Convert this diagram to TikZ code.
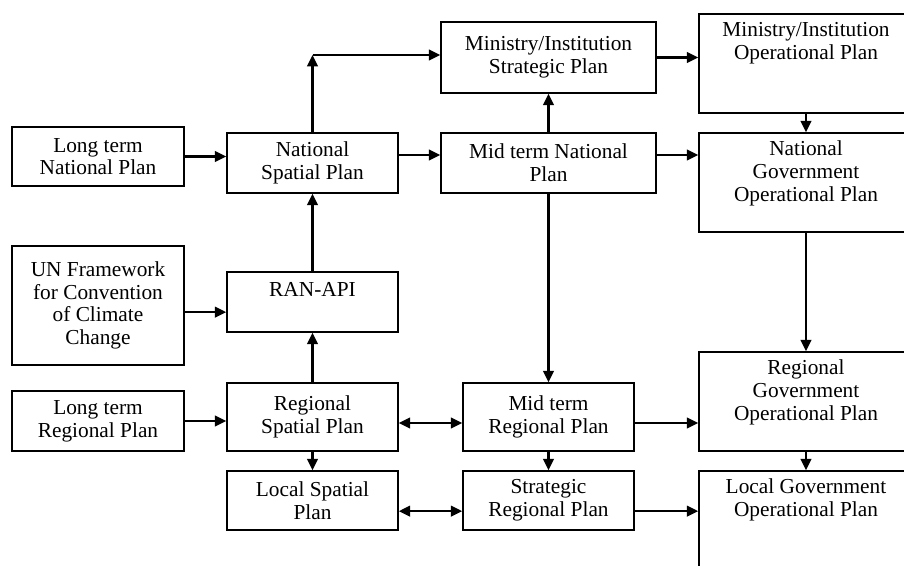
\documentclass[tikz,border=0pt]{standalone}
\usepackage{fontspec}
\setmainfont{Liberation Serif}
\usetikzlibrary{arrows.meta}
\begin{document}
\begin{tikzpicture}[x=0.75pt,y=-0.75pt,
		box/.style={draw,line width=1.2pt,align=center,inner sep=2pt},
		arr/.style={-{Triangle[length=8.5pt,width=8pt]},line width=1.6pt},
		both/.style={{Triangle[length=8.5pt,width=8pt]}-{Triangle[length=8.5pt,width=8pt]},line width=1.6pt}]
				\clip (0,0) rectangle (904,566);
				\fontsize{16}{17}\selectfont
				% long term plans
				\node[box,minimum width=129pt,minimum height=44.25pt] (lnp) at (98,156.5) {Long term\\National Plan};
				\node[box,minimum width=129pt,minimum height=89.25pt] (un) at (98,305.5) {UN Framework\\for Convention\\of Climate\\Change};
				\node[box,minimum width=129pt,minimum height=45pt] (lrp) at (98,421) {Long term\\Regional Plan};
				% spatial plans
				\node[box,minimum width=128.25pt,minimum height=45pt] (nsp) at (312.5,163) {National\\Spatial Plan};
				\node[box,minimum width=128.25pt,minimum height=45pt] (ran) at (312.5,302) {RAN-API\\[2pt]};
				\node[box,minimum width=128.25pt,minimum height=51pt] (rsp) at (312.5,417) {Regional\\Spatial Plan};
				\node[box,minimum width=128.25pt,minimum height=44.25pt] (lsp) at (312.5,500.5) {Local Spatial\\Plan};
				% mid term plans
				\node[box,minimum width=161.25pt,minimum height=53.25pt] (msp) at (548.5,57.5) {Ministry/Institution\\Strategic Plan};
				\node[box,minimum width=161.25pt,minimum height=45pt] (mnp) at (548.5,163) {Mid term National\\Plan};
				\node[box,minimum width=128.25pt,minimum height=51pt] (mrp) at (548.5,417) {Mid term\\Regional Plan};
				\node[box,minimum width=128.25pt,minimum height=44.25pt] (srp) at (548.5,500.5) {Strategic\\Regional Plan};
				% operational plans
				\node[box,minimum width=160.5pt,minimum height=74.25pt] (mop) at (806,63.5) {Ministry/Institution\\Operational Plan\\~\\~};
				\node[box,minimum width=160.5pt,minimum height=74.25pt] (ngop) at (806,182.5) {National\\Government\\Operational Plan\\~};
				\node[box,minimum width=160.5pt,minimum height=74.25pt] (rgop) at (806,401.5) {Regional\\Government\\Operational Plan\\~};
				\node[box,minimum width=160.5pt,minimum height=74.25pt] (lgop) at (806,520.5) {Local Government\\Operational Plan\\~\\~};
				
				\coordinate (bend) at (312.5,55);
				\draw[arr] (nsp) -- (bend);
				\draw[arr] (bend) -- (bend -| msp.west);
				\draw[arr] (msp) -- (msp -| mop.west);
				\draw[arr] (lnp) -- (lnp -| nsp.west);
				\draw[arr] ([yshift=6pt]nsp.east) -- ([yshift=6pt]nsp.east -| mnp.west);
				\draw[arr] ([yshift=6pt]mnp.east) -- ([yshift=6pt]mnp.east -| ngop.west);
				\draw[arr] ([yshift=-5pt]un.east) -- ([yshift=-5pt]un.east -| ran.west);
				\draw[arr] (lrp) -- (lrp -| rsp.west);
				\draw[both] ([yshift=-4.5pt]rsp.east) -- ([yshift=-4.5pt]rsp.east -| mrp.west);
				\draw[arr] ([yshift=-4.5pt]mrp.east) -- ([yshift=-4.5pt]mrp.east -| rgop.west);
				\draw[both] ([yshift=-8pt]lsp.east) -- ([yshift=-8pt]lsp.east -| srp.west);
				\draw[arr] ([yshift=-8pt]srp.east) -- ([yshift=-8pt]srp.east -| lgop.west);
				
				\foreach \a/\b in {ran/nsp, rsp/ran, rsp/lsp, mnp/msp, mnp/mrp, mrp/srp, mop/ngop, ngop/rgop, rgop/lgop}
				{
					\draw[arr] (\a) -- (\b);
				}
\end{tikzpicture}
\end{document}
